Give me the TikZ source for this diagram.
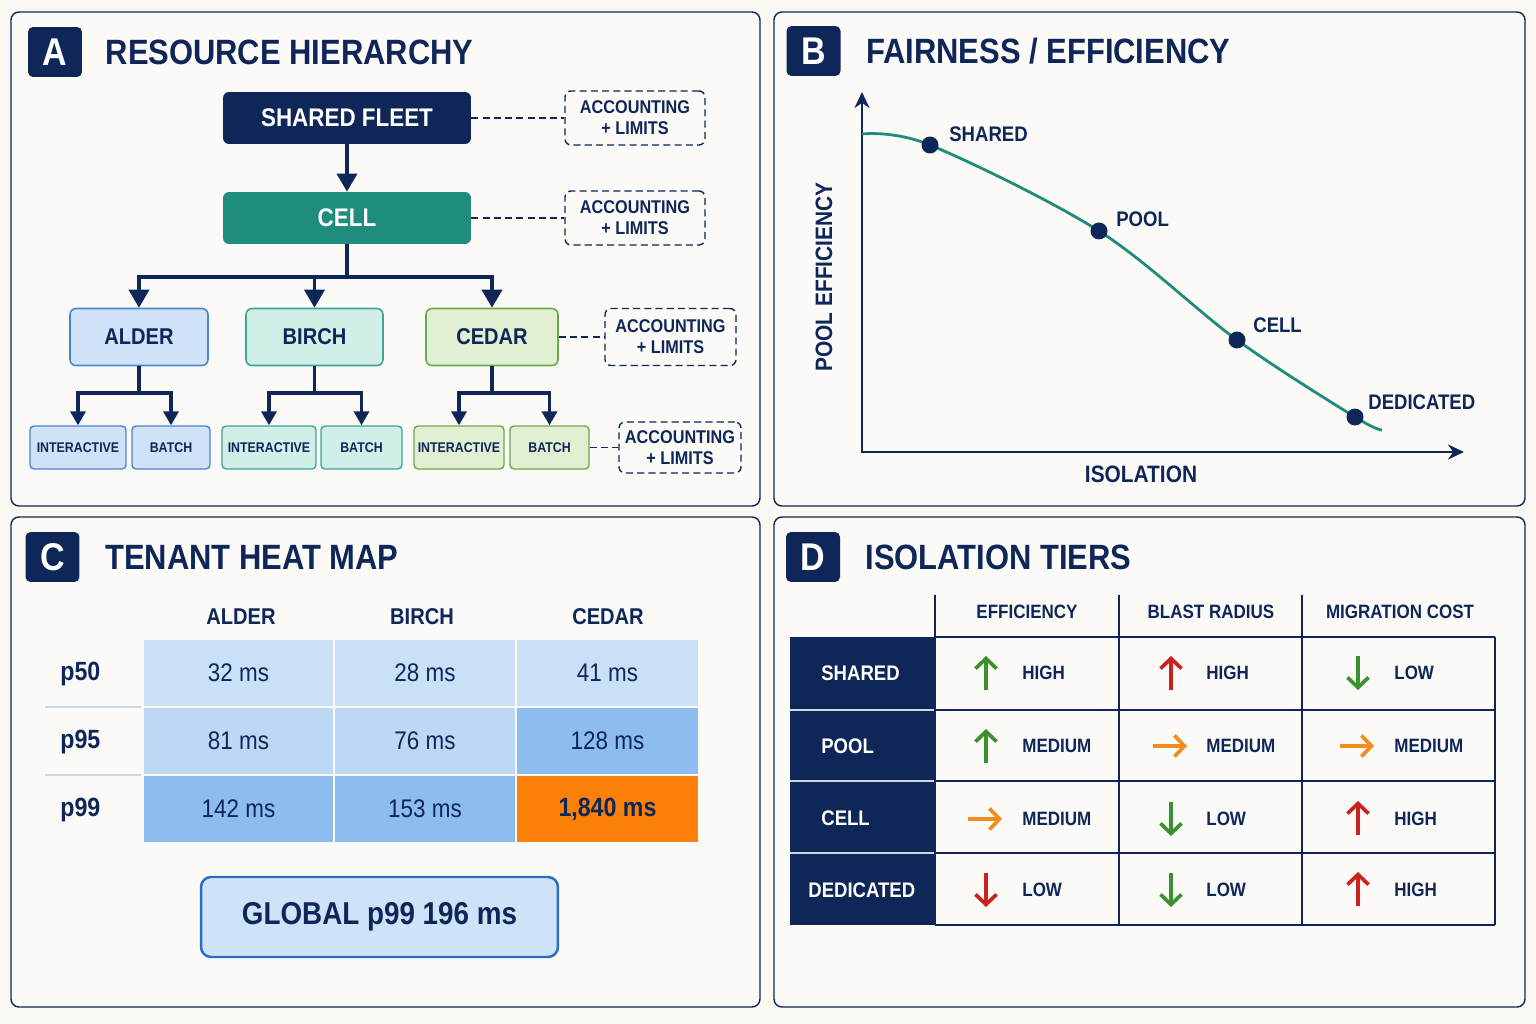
\documentclass[tikz,border=0pt]{standalone}
\usepackage{fontspec}
\setmainfont{Liberation Sans}[FakeStretch=0.88]
\usepackage{tikz}
\usetikzlibrary{positioning, arrows.meta}

\definecolor{navy}{RGB}{14,38,88}
\definecolor{teal}{RGB}{31,140,125}
\definecolor{pagebg}{RGB}{250,248,242}
\definecolor{panelbg}{RGB}{252,250,246}
\definecolor{alderfill}{RGB}{207,226,247}
\definecolor{alderline}{RGB}{74,134,208}
\definecolor{birchfill}{RGB}{208,239,233}
\definecolor{birchline}{RGB}{60,165,150}
\definecolor{cedarfill}{RGB}{226,240,210}
\definecolor{cedarline}{RGB}{106,168,79}
\definecolor{heatlow}{RGB}{201,224,247}
\definecolor{heatmid}{RGB}{188,216,245}
\definecolor{heathigh}{RGB}{141,189,238}
\definecolor{heathot}{RGB}{250,128,10}
\definecolor{globfill}{RGB}{207,227,248}
\definecolor{globline}{RGB}{43,108,196}
\definecolor{rulegray}{RGB}{205,214,228}
\definecolor{good}{RGB}{58,145,46}
\definecolor{bad}{RGB}{200,35,30}
\definecolor{meh}{RGB}{243,140,30}
\newcommand{\sz}[2]{\fontsize{#1}{#2}\selectfont}

\begin{document}
\begin{tikzpicture}[
        x=0.02cm, y=-0.02cm,
        panel/.style={draw=navy, line width=0.8pt, rounded corners=0.16cm, fill=panelbg},
        badge/.style={fill=navy, rounded corners=0.1cm, minimum width=1.08cm, minimum height=1cm, inner sep=0pt, text=white, font=\sz{22}{24}\bfseries},
        paneltitle/.style={text=navy, inner sep=0pt, font=\sz{20}{24}\bfseries},
        tierbox/.style={rounded corners=0.12cm, minimum width=4.96cm, minimum height=1.04cm, text=white, font=\sz{14.5}{16}\bfseries},
        tenant/.style={fill=#1fill, draw=#1line, line width=0.9pt, rounded corners=0.12cm, minimum height=1.14cm, text=navy, font=\sz{13}{15}\bfseries},
        lane/.style={fill=#1fill, draw=#1line, line width=0.8pt, rounded corners=0.08cm, minimum height=0.86cm, inner sep=1pt, text=navy, font=\sz{8}{9}\bfseries},
        acct/.style={draw=navy, dash pattern=on 4pt off 2.4pt, line width=0.8pt, rounded corners=0.12cm, align=center, text=navy, font=\sz{10.5}{12}\bfseries},
        link/.style={draw=navy, dash pattern=on 4pt off 2.4pt, line width=0.8pt},
        tree/.style={draw=navy, line width=2.1pt},
        down/.style={tree, -{Triangle[length=0.36cm, width=0.4cm]}},
        sub/.style={tree, -{Triangle[length=0.28cm, width=0.3cm]}},
        axisline/.style={draw=navy, line width=1.5pt, {Stealth[length=0.32cm, width=0.3cm]}-{Stealth[length=0.32cm, width=0.3cm]}},
        curve/.style={draw=teal, line width=1.6pt},
        dot/.style={circle, fill=navy, inner sep=0pt, minimum size=0.34cm},
        ptlabel/.style={anchor=west, inner sep=0pt, text=navy, font=\sz{12}{14}\bfseries},
        axlabel/.style={text=navy, inner sep=0pt, font=\sz{13.5}{15}\bfseries},
        colhead/.style={text=navy, font=\sz{13}{15}\bfseries},
        pct/.style={anchor=west, inner sep=0pt, text=navy, font=\sz{15}{17}\bfseries},
        heat/.style={fill=#1, minimum width=3.62cm, minimum height=1.32cm, inner sep=0pt, text=navy, font=\sz{14.5}{16}},
        wide/.style={minimum width=3.78cm},
        rule/.style={draw=rulegray, line width=0.9pt},
        total/.style={draw=globline, fill=globfill, line width=1.4pt, rounded corners=0.2cm, minimum width=7.14cm, minimum height=1.6cm, text=navy, font=\sz{18}{20}\bfseries},
        thead/.style={text=navy, font=\sz{11}{13}\bfseries},
        tierlab/.style={anchor=west, inner sep=0pt, text=white, font=\sz{12}{14}\bfseries},
        grid/.style={draw=navy, line width=0.8pt},
        level/.style={anchor=west, inner sep=0pt, text=navy, font=\sz{11}{13}\bfseries},
        trend/.style={line width=2.1pt, -{Straight Barb[length=0.2cm, width=0.42cm]}},
    ]

    \useasboundingbox (0,0) rectangle (1536,1024);
    \fill[pagebg] (0,0) rectangle (1536,1024);

    \draw[panel] (11,12) rectangle (760,506);
    \draw[panel] (774,12) rectangle (1525,506);
    \draw[panel] (11,517) rectangle (760,1007);
    \draw[panel] (774,517) rectangle (1525,1007);

    % A: hierarchy
    \node[badge] (bA) at (55,52) {A};
    \node[paneltitle, right=0.46cm of bA] (tA) {RESOURCE HIERARCHY};

    \node[tierbox, fill=navy] (fleet) at (347,118) {SHARED FLEET};
    \node[tierbox, fill=teal] (cell) at (347,218) {CELL};
    \node[acct, minimum width=2.8cm, minimum height=1.08cm] (acc1) at (635,118) {ACCOUNTING\\+ LIMITS};
    \node[acct, minimum width=2.8cm, minimum height=1.08cm] (acc2) at (635,218) {ACCOUNTING\\+ LIMITS};

    \node[tenant=alder, minimum width=2.76cm] (alder) at (139,337) {ALDER};
    \node[tenant=birch, minimum width=2.74cm] (birch) at (314.5,337) {BIRCH};
    \node[tenant=cedar, minimum width=2.64cm] (cedar) at (492,337) {CEDAR};
    \node[acct, minimum width=2.62cm, minimum height=1.14cm] (acc3) at (670.5,337) {ACCOUNTING\\+ LIMITS};

    \node[lane=alder, minimum width=1.92cm] (aint) at (78,447.5) {INTERACTIVE};
    \node[lane=alder, minimum width=1.56cm] (abat) at (171,447.5) {BATCH};
    \node[lane=birch, minimum width=1.88cm] (bint) at (269,447.5) {INTERACTIVE};
    \node[lane=birch, minimum width=1.62cm] (bbat) at (361.5,447.5) {BATCH};
    \node[lane=cedar, minimum width=1.8cm] (cint) at (459,447.5) {INTERACTIVE};
    \node[lane=cedar, minimum width=1.58cm] (cbat) at (549.5,447.5) {BATCH};
    \node[acct, minimum width=2.44cm, minimum height=1.02cm] (acc4) at (680,447.5) {ACCOUNTING\\+ LIMITS};

    \draw[link] (fleet) -- (acc1);
    \draw[link] (cell) -- (acc2);
    \draw[link] (cedar) -- (acc3);
    \draw[link] (cbat) -- (acc4);

    \draw[down] (fleet) -- (cell);
    \coordinate (hub) at (347,277);
    \draw[tree] (cell) -- (hub);
    \draw[down] (hub) -| (alder);
    \draw[down] (hub) -| (cedar);
    \draw[down] (hub -| birch) -- (birch);

    \coordinate (ahub) at (139,393);
    \coordinate (bhub) at (314.5,393);
    \coordinate (chub) at (492,393);
    \draw[tree] (alder) -- (ahub);
    \draw[tree] (birch) -- (bhub);
    \draw[tree] (cedar) -- (chub);
    \draw[sub] (ahub) -| (aint);
    \draw[sub] (ahub) -| (abat);
    \draw[sub] (bhub) -| (bint);
    \draw[sub] (bhub) -| (bbat);
    \draw[sub] (chub) -| (cint);
    \draw[sub] (chub) -| (cbat);

    % B: trade-off curve
    \node[badge] (bB) at (813.5,51) {B};
    \node[paneltitle, right=0.5cm of bB] (tB) {FAIRNESS / EFFICIENCY};

    \coordinate (origin) at (862,452);
    \coordinate (ytip) at (862,92);
    \coordinate (xtip) at (1464,452);
    \draw[axisline] (ytip) -- (origin) -- (xtip);

    \coordinate (pS) at (930,145);
    \coordinate (pP) at (1099,231);
    \coordinate (pC) at (1237,340);
    \coordinate (pD) at (1355,417);
    \draw[curve] plot[smooth, tension=0.55] coordinates {(862,134) (pS) (pP) (pC) (pD) (1382,430)};
    \node[dot] (dS) at (pS) {};
    \node[dot] (dP) at (pP) {};
    \node[dot] (dC) at (pC) {};
    \node[dot] (dD) at (pD) {};
    \node[ptlabel] (lS) at (949,134) {SHARED};
    \node[ptlabel] (lP) at (1116,219) {POOL};
    \node[ptlabel] (lC) at (1253,325) {CELL};
    \node[ptlabel] (lD) at (1368,402) {DEDICATED};
    \node[axlabel, rotate=90] (ylab) at (824,277) {POOL EFFICIENCY};
    \node[axlabel] (xlab) at (1141,474) {ISOLATION};

    % C: heat map
    \node[badge] (bC) at (52.5,557) {C};
    \node[paneltitle, right=0.5cm of bC] (tC) {TENANT HEAT MAP};

    \node[colhead] (hAlder) at (241,617) {ALDER};
    \node[colhead] (hBirch) at (422,617) {BIRCH};
    \node[colhead] (hCedar) at (608,617) {CEDAR};
    \node[pct] (r50) at (60,674) {p50};
    \node[pct] (r95) at (60,742) {p95};
    \node[pct] (r99) at (60,810) {p99};
    \draw[rule] (45,707) -- (141,707);
    \draw[rule] (45,775) -- (141,775);

    \node[heat=heatlow, wide] (a50) at (238.5,673) {32 ms};
    \node[heat=heatlow] (b50) at (425,673) {28 ms};
    \node[heat=heatlow] (c50) at (607.5,673) {41 ms};
    \node[heat=heatmid, wide] (a95) at (238.5,741) {81 ms};
    \node[heat=heatmid] (b95) at (425,741) {76 ms};
    \node[heat=heathigh] (c95) at (607.5,741) {128 ms};
    \node[heat=heathigh, wide] (a99) at (238.5,809) {142 ms};
    \node[heat=heathigh] (b99) at (425,809) {153 ms};
    \node[heat=heathot, font=\sz{15}{17}\bfseries] (c99) at (607.5,809) {1,840 ms};

    \node[total] (glob) at (379.5,917) {GLOBAL p99 196 ms};

    % D: tiers table
    \node[badge] (bD) at (813,557) {D};
    \node[paneltitle, right=0.5cm of bD] (tD) {ISOLATION TIERS};

    \node[thead] (hEff) at (1027,612) {EFFICIENCY};
    \node[thead] (hBlast) at (1211,612) {BLAST RADIUS};
    \node[thead] (hMig) at (1400,612) {MIGRATION COST};

    \fill[navy] (790,637) rectangle (935,925);
    \draw[rulegray, line width=1pt] (790,710) -- (935,710) (790,781) -- (935,781) (790,853) -- (935,853);
    \draw[grid] (935,595) -- (935,925) (1119,595) -- (1119,925) (1302,595) -- (1302,925) (1495,637) -- (1495,925);
    \draw[grid] (935,637) -- (1495,637) (935,710) -- (1495,710) (935,781) -- (1495,781) (935,853) -- (1495,853) (935,925) -- (1495,925);

    \node[tierlab] (tShared) at (821,673) {SHARED};
    \node[tierlab] (tPool) at (821,746) {POOL};
    \node[tierlab] (tCell) at (821,818) {CELL};
    \node[tierlab] (tDed) at (808,890) {DEDICATED};

    % shared
    \draw[trend, good] (986,690) -- (986,656);
    \node[level] (e1) at (1022,673) {HIGH};
    \draw[trend, bad] (1171,690) -- (1171,656);
    \node[level] (r1) at (1206,673) {HIGH};
    \draw[trend, good] (1358,656) -- (1358,690);
    \node[level] (m1) at (1394,673) {LOW};
    % pool
    \draw[trend, good] (986,763) -- (986,729);
    \node[level] (e2) at (1022,746) {MEDIUM};
    \draw[trend, meh] (1153,746) -- (1187,746);
    \node[level] (r2) at (1206,746) {MEDIUM};
    \draw[trend, meh] (1340,746) -- (1374,746);
    \node[level] (m2) at (1394,746) {MEDIUM};
    % cell
    \draw[trend, meh] (968,819) -- (1002,819);
    \node[level] (e3) at (1022,819) {MEDIUM};
    \draw[trend, good] (1171,802) -- (1171,836);
    \node[level] (r3) at (1206,819) {LOW};
    \draw[trend, bad] (1358,835) -- (1358,801);
    \node[level] (m3) at (1394,819) {HIGH};
    % dedicated
    \draw[trend, bad] (986,873) -- (986,907);
    \node[level] (e4) at (1022,890) {LOW};
    \draw[trend, good] (1171,873) -- (1171,907);
    \node[level] (r4) at (1206,890) {LOW};
    \draw[trend, bad] (1358,906) -- (1358,872);
    \node[level] (m4) at (1394,890) {HIGH};

\end{tikzpicture}
\end{document}
